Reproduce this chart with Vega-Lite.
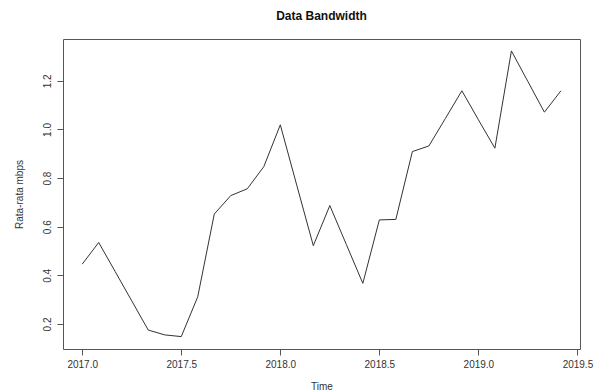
{
  "$schema": "https://vega.github.io/schema/vega-lite/v6.json",
  "width": 517,
  "height": 310,
  "autosize": {"type": "none"},
  "padding": {"left": 63, "top": 39, "right": 21, "bottom": 42},
  "background": "white",
  "title": {
    "text": "Data Bandwidth",
    "font": "Liberation Sans",
    "fontSize": 12,
    "fontWeight": "bold",
    "color": "#111",
    "anchor": "middle",
    "baseline": "middle",
    "offset": 11
  },
  "config": {
    "view": {"stroke": "#555", "strokeWidth": 1},
    "axis": {
      "domain": false,
      "grid": false,
      "ticks": true,
      "tickSize": 6,
      "tickColor": "#555",
      "labelFont": "Liberation Sans",
      "labelFontSize": 10,
      "labelColor": "#333",
      "titleFont": "Liberation Sans",
      "titleFontSize": 10,
      "titleFontWeight": "normal",
      "titleColor": "#333"
    }
  },
  "data": {
    "values": [
      {"time": 2017.0000, "value": 0.446},
      {"time": 2017.0833, "value": 0.535},
      {"time": 2017.1667, "value": 0.415},
      {"time": 2017.2500, "value": 0.295},
      {"time": 2017.3333, "value": 0.175},
      {"time": 2017.4167, "value": 0.155},
      {"time": 2017.5000, "value": 0.148},
      {"time": 2017.5833, "value": 0.312},
      {"time": 2017.6667, "value": 0.652},
      {"time": 2017.7500, "value": 0.728},
      {"time": 2017.8333, "value": 0.756},
      {"time": 2017.9167, "value": 0.847},
      {"time": 2018.0000, "value": 1.019},
      {"time": 2018.0833, "value": 0.770},
      {"time": 2018.1667, "value": 0.522},
      {"time": 2018.2500, "value": 0.687},
      {"time": 2018.3333, "value": 0.527},
      {"time": 2018.4167, "value": 0.367},
      {"time": 2018.5000, "value": 0.628},
      {"time": 2018.5833, "value": 0.630},
      {"time": 2018.6667, "value": 0.909},
      {"time": 2018.7500, "value": 0.932},
      {"time": 2018.8333, "value": 1.045},
      {"time": 2018.9167, "value": 1.159},
      {"time": 2019.0000, "value": 1.040},
      {"time": 2019.0833, "value": 0.923},
      {"time": 2019.1667, "value": 1.323},
      {"time": 2019.2500, "value": 1.197},
      {"time": 2019.3333, "value": 1.071},
      {"time": 2019.4167, "value": 1.159}
    ]
  },
  "mark": {"type": "line", "color": "#333", "strokeWidth": 1},
  "encoding": {
    "x": {
      "field": "time",
      "type": "quantitative",
      "scale": {"domain": [2016.903, 2019.513], "nice": false, "zero": false},
      "axis": {
        "title": "Time",
        "values": [2017, 2017.5, 2018, 2018.5, 2019, 2019.5],
        "format": ".1f",
        "labelPadding": 4,
        "titlePadding": 12
      }
    },
    "y": {
      "field": "value",
      "type": "quantitative",
      "scale": {"domain": [0.097, 1.372], "nice": false, "zero": false},
      "axis": {
        "title": "Rata-rata mbps",
        "values": [0.2, 0.4, 0.6, 0.8, 1.0, 1.2],
        "format": ".1f",
        "labelAngle": -90,
        "labelAlign": "center",
        "labelBaseline": "bottom",
        "labelPadding": 5,
        "titlePadding": 18
      }
    }
  }
}
